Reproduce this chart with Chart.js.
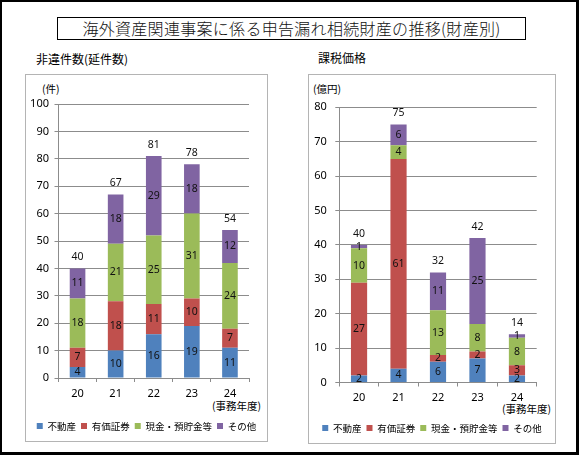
<!DOCTYPE html>
<html lang="ja">
<head>
<meta charset="utf-8">
<script src="https://cdn.jsdelivr.net/npm/chart.js@4.4.1/dist/chart.umd.min.js"></script>
<style>
  html, body { margin: 0; padding: 0; background: #fff; }
  body { width: 580px; height: 456px; position: relative; overflow: hidden;
         font-family: "Noto Sans CJK JP", sans-serif; color: #000; }
  .abs { position: absolute; white-space: nowrap; }
  .frame { left: 0; top: 0; width: 574px; height: 450px; border: solid #000;
           border-width: 2px 3px 3px 2px; }
  .title { left: 57px; top: 17px; width: 469px; height: 23px; box-sizing: border-box;
           border: 1px solid #000; text-align: center; font-size: 16px; line-height: 21px;
           letter-spacing: 0.3px; font-weight: 300; color: #111; }
  .sub { font-size: 12px; line-height: 12px; }
  .panel { border: 1px solid #b4b4b4; box-sizing: border-box; }
  .unit { font-size: 10.5px; line-height: 10px; }
  canvas { position: absolute; }
</style>
</head>
<body>
<div class="abs frame"></div>
<div class="abs title">海外資産関連事案に係る申告漏れ相続財産の推移(財産別)</div>
<div class="abs sub" style="left:36px; top:53px;">非違件数(延件数)</div>
<div class="abs sub" style="left:318px; top:52px;">課税価格</div>

<div class="abs panel" style="left:25px; top:74px; width:243px; height:368px;"></div>
<div class="abs panel" style="left:308px; top:74px; width:248px; height:370px;"></div>

<div class="abs unit" style="left:42px; top:84px;">(件)</div>
<div class="abs unit" style="left:313px; top:84px;">(億円)</div>
<div class="abs unit" style="left:212px; top:401px;">(事務年度)</div>
<div class="abs unit" style="left:502px; top:404px;">(事務年度)</div>

<canvas id="countChart" width="243" height="368" style="left:25px; top:74px;"></canvas>
<canvas id="valueChart" width="248" height="370" style="left:308px; top:74px;"></canvas>

<script>
const years = ['20', '21', '22', '23', '24'];
const seriesNames = ['不動産', '有価証券', '現金・預貯金等', 'その他'];
const seriesColors = ['#4F81BD', '#C0504D', '#9BBB59', '#8064A2'];

// 非違件数（延件数）
const countRealEstate = [4, 10, 16, 19, 11];
const countSecurities = [7, 18, 11, 10, 7];
const countCash = [18, 21, 25, 31, 24];
const countOther = [11, 18, 29, 18, 12];
const countMax = 100;

// 課税価格（億円）
const valueRealEstate = [2, 4, 6, 7, 2];
const valueSecurities = [27, 61, 2, 2, 3];
const valueCash = [10, 4, 13, 8, 8];
const valueOther = [1, 6, 11, 25, 1];
const valueMax = 80;

const tickStep = 10;

const numFont = '"Noto Sans", "Liberation Sans", sans-serif';
const jpFont = '"Noto Sans CJK JP", sans-serif';
const axisGray = '#8c8c8c';

// segment values inside the bars, totals above
const barLabels = {
  id: 'barLabels',
  afterDatasetsDraw(chart) {
    const ctx = chart.ctx;
    const sets = chart.data.datasets;
    ctx.save();
    ctx.font = '10.5px ' + numFont;
    ctx.fillStyle = '#111';
    ctx.textAlign = 'center';
    ctx.textBaseline = 'middle';
    sets.forEach((ds, i) => {
      chart.getDatasetMeta(i).data.forEach((bar, j) => {
        ctx.fillText(ds.data[j], bar.x, (bar.y + bar.base) / 2);
      });
    });
    chart.getDatasetMeta(sets.length - 1).data.forEach((bar, j) => {
      const total = sets.reduce((s, ds) => s + ds.data[j], 0);
      ctx.fillText(total, bar.x, bar.y - 11);
    });
    ctx.restore();
  }
};

function makeChart(id, series, max, geo) {
  new Chart(document.getElementById(id), {
    type: 'bar',
    data: {
      labels: years,
      datasets: series.map((d, i) => ({
        label: seriesNames[i],
        data: d,
        backgroundColor: seriesColors[i],
        borderWidth: 0,
        barPercentage: 0.41,
        categoryPercentage: 1
      }))
    },
    options: {
      responsive: false,
      animation: false,
      layout: { padding: { top: geo.top, right: 0, bottom: geo.bottom, left: 0 } },
      plugins: {
        tooltip: { enabled: false },
        legend: {
          position: 'bottom',
          labels: {
            boxWidth: 6, boxHeight: 6, padding: 5, color: '#000',
            font: { family: jpFont, size: 9.5 }
          }
        }
      },
      scales: {
        x: {
          stacked: true,
          grid: { offset: true, drawOnChartArea: false, drawTicks: true, tickLength: 4, color: axisGray },
          border: { color: axisGray },
          ticks: { color: '#000', padding: 5, font: { family: numFont, size: 11 } },
          afterFit: s => { s.height = geo.xHeight; }
        },
        y: {
          stacked: true,
          min: 0, max: max,
          grid: { color: axisGray, tickLength: 4 },
          border: { color: axisGray },
          ticks: { stepSize: tickStep, color: '#000', padding: geo.yPad, font: { family: numFont, size: 11 } },
          afterFit: s => { s.width = geo.yWidth; }
        },
        // empty right-hand spacer so the legend keeps the full panel width
        spacer: {
          type: 'linear',
          position: 'right',
          grid: { display: false },
          border: { display: false },
          ticks: { display: false },
          afterFit: s => { s.width = geo.right; }
        }
      }
    },
    plugins: [barLabels]
  });
}

makeChart('countChart', [countRealEstate, countSecurities, countCash, countOther], countMax,
  { top: 30, right: 19, bottom: 1.25, xHeight: 38.25, yWidth: 33.5, yPad: 5.5 });
makeChart('valueChart', [valueRealEstate, valueSecurities, valueCash, valueOther], valueMax,
  { top: 33.3, right: 19.3, bottom: 1.25, xHeight: 35.75, yWidth: 31.3, yPad: 8.5 });
</script>
</body>
</html>
